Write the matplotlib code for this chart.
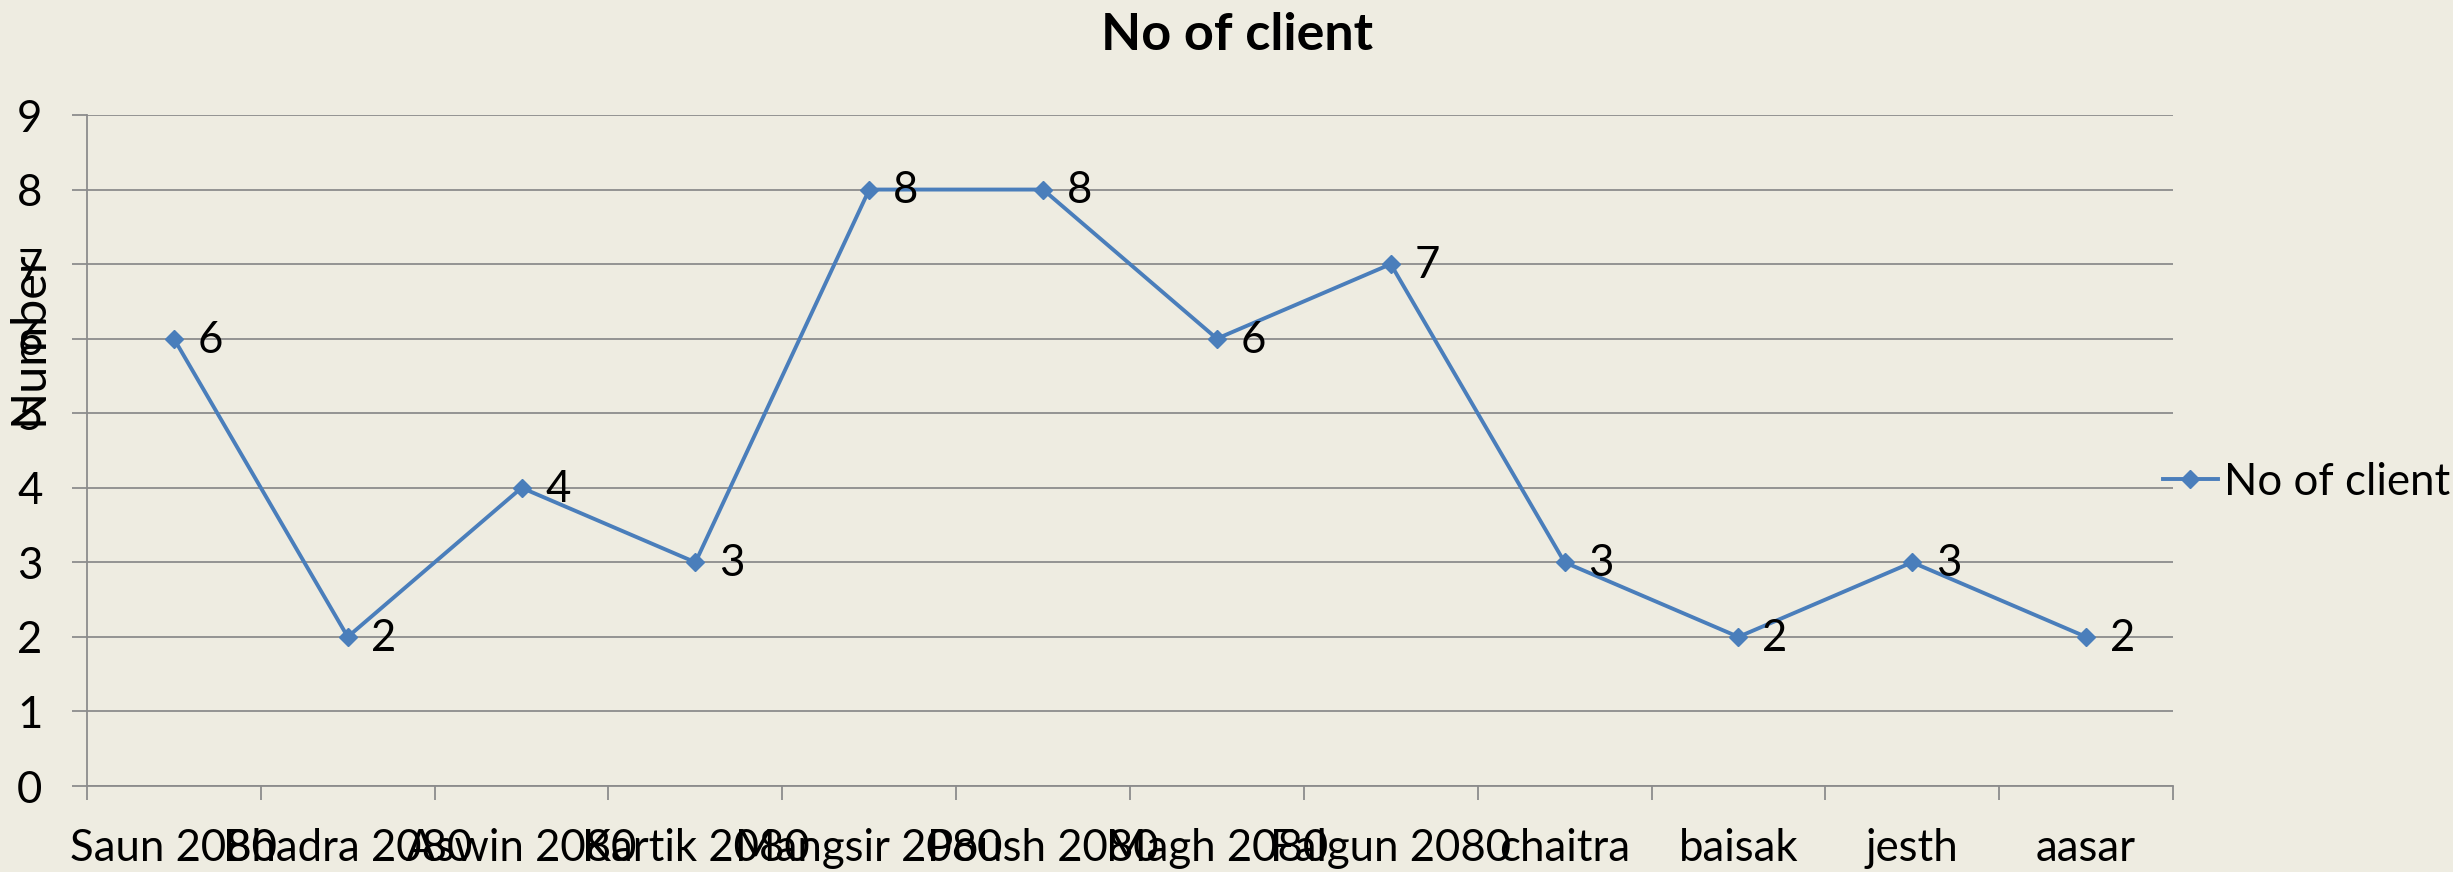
import matplotlib
matplotlib.use("Agg")
import matplotlib.pyplot as plt
import numpy as np

categories = ["Saun 2080", "Bhadra 2080", "Aswin 2080", "Kartik 2080", "Mangsir 2080",
              "Poush 2080", "Magh 2080", "Falgun 2080", "chaitra", "baisak", "jesth", "aasar"]
clients = [6, 2, 4, 3, 8, 8, 6, 7, 3, 2, 3, 2]
y_ticks = [0, 1, 2, 3, 4, 5, 6, 7, 8, 9]

plt.rcParams['font.family'] = ['Lato', 'DejaVu Sans']
FS = 31.5
BG = '#EEECE1'
GRID = '#8C8C8C'
LINE = '#4A7EBB'

W, H = 2453, 872
fig = plt.figure(figsize=(W / 100, H / 100), dpi=100, facecolor=BG)
ax = fig.add_axes([87 / W, 1 - 786 / H, (2173 - 87) / W, (786 - 115) / H], facecolor=BG)

x = np.arange(len(categories))
ax.plot(x, clients, color=LINE, lw=2.8, marker='D', ms=9.5, label='No of client', zorder=3)
for xi, v in zip(x, clients):
    ax.annotate(str(v), (xi, v), xytext=(17, -1), textcoords='offset points',
                ha='left', va='center', fontsize=FS, color='black')

ax.set_xlim(-0.5, len(categories) - 0.5)
ax.set_ylim(0, 9)
ax.set_yticks(y_ticks)
ax.set_yticklabels([str(t) for t in y_ticks], fontsize=FS)
ax.yaxis.grid(True, color=GRID, lw=1.3)
ax.set_axisbelow(True)

ax.set_xticks(np.arange(-0.5, len(categories)))
ax.set_xticklabels([])
ax.set_xticks(x, minor=True)
ax.set_xticklabels(categories, minor=True, fontsize=FS)
ax.tick_params(axis='x', which='major', length=10, width=1.3, color=GRID, direction='out')
ax.tick_params(axis='x', which='minor', length=0, pad=30)
ax.tick_params(axis='y', length=11, width=1.3, color=GRID, direction='out', pad=21)

for s in ['top', 'right']:
    ax.spines[s].set_visible(False)
for s in ['left', 'bottom']:
    ax.spines[s].set_color(GRID)
    ax.spines[s].set_linewidth(1.3)

fig.text(1237 / W, 1 - 36 / H, 'No of client', ha='center', va='center',
         fontsize=37.5, fontweight='bold')
fig.text(29 / W, 1 - 338 / H, 'Number', rotation=90, ha='center', va='center', fontsize=35)

fig.legend(loc='center left', bbox_to_anchor=(2163 / W, 1 - 482 / H), frameon=False,
           fontsize=FS, handlelength=1.25, handletextpad=0.15, borderpad=0, borderaxespad=0)

fig.savefig('out.png', dpi=100, facecolor=BG)
